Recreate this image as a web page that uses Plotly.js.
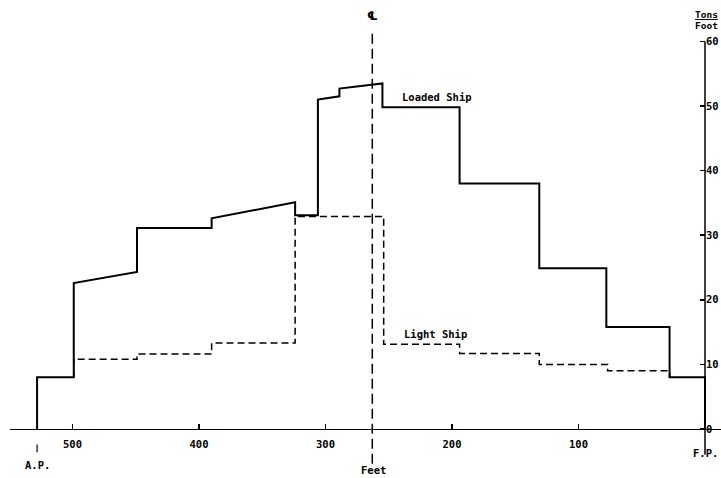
<!DOCTYPE html>
<html>
<head>
<meta charset="utf-8">
<script src="https://cdn.plot.ly/plotly-3.0.1.min.js"></script>
<style>html,body{margin:0;padding:0;background:#fff;overflow:hidden}#chart{width:721px;height:478px}</style>
</head>
<body>
<div id="chart"></div>
<script>
// Distance from forward perpendicular (feet) and weight (tons per foot)
const loadedFeet = [528, 528, 499, 499, 449, 449, 390, 390, 324, 324, 306, 306, 289, 289, 255, 255, 194, 194, 131, 131, 78, 78, 28, 28, 0, 0];
const loadedTons = [0, 8, 8, 22.6, 24.3, 31.1, 31.1, 32.6, 35.1, 33.1, 33.1, 51.0, 51.5, 52.7, 53.5, 49.8, 49.8, 38.0, 38.0, 24.9, 24.9, 15.8, 15.8, 8.0, 8.0, 0];
const lightFeet = [499, 499, 449, 449, 390, 390, 324, 324, 254, 254, 194, 194, 131, 131, 77, 77, 28, 28];
const lightTons = [8, 10.8, 10.8, 11.6, 11.6, 13.3, 13.3, 32.9, 32.9, 13.1, 13.1, 11.7, 11.7, 10.0, 10.0, 9.0, 9.0, 8.0];
const xTickVals = [500, 400, 300, 200, 100];
const xTickText = ['500', '400', '300', '200', '100'];
const yTickVals = [0, 10, 20, 30, 40, 50, 60];
const yTickText = ['0', '10', '20', '30', '40', '50', '60'];
const AP = 528, FP = 0, MIDSHIP = 263;

const FB = {family: 'DejaVu Sans Mono, monospace', size: 10.5, color: '#000', weight: 'bold'};
const FS = {family: 'DejaVu Sans Mono, monospace', size: 9.5, color: '#000', weight: 'bold'};

const traces = [
  {x: loadedFeet, y: loadedTons, type: 'scatter', mode: 'lines', name: 'Loaded Ship',
   line: {color: '#000', width: 2, shape: 'linear'}, hoverinfo: 'skip', cliponaxis: false},
  {x: lightFeet, y: lightTons, type: 'scatter', mode: 'lines', name: 'Light Ship',
   line: {color: '#000', width: 1.5, dash: '7px,4px'}, hoverinfo: 'skip'}
];

const layout = {
  width: 721, height: 478,
  margin: {l: 10, r: 0, t: 2, b: 2},
  paper_bgcolor: '#fff', plot_bgcolor: '#fff',
  showlegend: false,
  xaxis: {
    range: [549.4, -12.65], anchor: 'free', position: 0.0992,
    showgrid: false, zeroline: false, showline: true, linecolor: '#000', linewidth: 1.5,
    tickvals: xTickVals, ticktext: xTickText, ticks: 'inside', ticklen: 5, tickwidth: 1.5, tickcolor: '#000',
    tickfont: FB, ticklabelstandoff: 5
  },
  yaxis: {
    range: [-7.28, 66.10], side: 'right', anchor: 'free', position: 0.9775,
    showgrid: false, zeroline: false, showline: false,
    tickvals: yTickVals, ticktext: yTickText, ticks: 'inside', ticklen: 5, tickwidth: 1.5, tickcolor: '#000',
    tickfont: FB
  },
  shapes: [
    {type: 'line', xref: 'x', yref: 'y', x0: FP, x1: FP, y0: -4, y1: 60, line: {color: '#000', width: 1.5}},
    {type: 'line', xref: 'x', yref: 'y', x0: AP, x1: AP, y0: -2.4, y1: -3.6, line: {color: '#000', width: 1.2}},
    {type: 'line', xref: 'x', yref: 'y', x0: MIDSHIP, x1: MIDSHIP, y0: -5.4, y1: 61.3, line: {color: '#000', width: 1.5, dash: '10px,5px'}}
  ],
  annotations: [
    {x: MIDSHIP, y: 63.9, xref: 'x', yref: 'y', text: '\u2104', showarrow: false, font: {family: 'DejaVu Sans', size: 12, color: '#000', weight: 'bold'}},
    {x: 212, y: 51.4, xref: 'x', yref: 'y', text: 'Loaded Ship', showarrow: false, font: FB},
    {x: 213, y: 14.7, xref: 'x', yref: 'y', text: 'Light Ship', showarrow: false, font: FB},
    {x: AP, y: -5.6, xref: 'x', yref: 'y', text: 'A.P.', showarrow: false, font: FB},
    {x: FP, y: -3.7, xref: 'x', yref: 'y', text: 'F.P.', showarrow: false, font: FB},
    {x: MIDSHIP - 1, y: -6.3, xref: 'x', yref: 'y', text: 'Feet', showarrow: false, font: FB},
    {x: 1, y: 64.1, xref: 'paper', yref: 'y', xanchor: 'right', xshift: -1, text: '<u>Tons</u>', showarrow: false, font: FS},
    {x: 1, y: 62.4, xref: 'paper', yref: 'y', xanchor: 'right', xshift: -1, text: 'Foot', showarrow: false, font: FS}
  ]
};

Plotly.newPlot('chart', traces, layout, {displayModeBar: false, staticPlot: true});
</script>
</body>
</html>
